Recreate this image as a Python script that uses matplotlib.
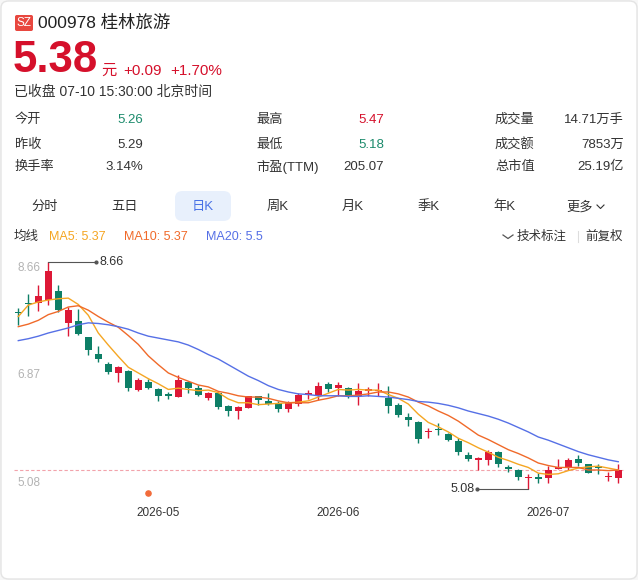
import matplotlib
matplotlib.use('Agg')
import matplotlib.pyplot as plt
import matplotlib.transforms as mtransforms
from matplotlib.patches import FancyBboxPatch
from matplotlib.lines import Line2D

plt.rcParams['font.family'] = ['Liberation Sans', 'Noto Sans CJK SC', 'DejaVu Sans']

# --- Data ---
opens = [7.87, 8.00, 8.02, 8.06, 8.20, 7.69, 7.73, 7.47, 7.21, 7.05,
         6.91, 6.94, 6.64, 6.77, 6.66, 6.56, 6.53, 6.77, 6.68, 6.52,
         6.59, 6.39, 6.31, 6.36, 6.54, 6.47, 6.44, 6.34, 6.42, 6.56,
         6.57, 6.73, 6.67, 6.68, 6.54, 6.63, 6.62, 6.51, 6.41, 6.21,
         6.14, 5.98, 6.02, 5.95, 5.84, 5.62, 5.54, 5.54, 5.67, 5.41,
         5.38, 5.25, 5.25, 5.26, 5.40, 5.42, 5.55, 5.47, 5.44, 5.27, 5.26]
closes = [7.85, 7.99, 8.13, 8.51, 7.90, 7.90, 7.52, 7.27, 7.13, 6.92,
          7.01, 6.67, 6.80, 6.68, 6.54, 6.55, 6.80, 6.68, 6.56, 6.59,
          6.37, 6.31, 6.37, 6.54, 6.48, 6.42, 6.34, 6.44, 6.57, 6.59,
          6.70, 6.66, 6.72, 6.55, 6.63, 6.64, 6.64, 6.39, 6.24, 6.17,
          5.87, 6.00, 6.01, 5.85, 5.66, 5.55, 5.56, 5.66, 5.48, 5.40,
          5.27, 5.27, 5.24, 5.38, 5.42, 5.54, 5.49, 5.34, 5.41, 5.29, 5.38]
highs = [7.93, 8.15, 8.29, 8.66, 8.29, 7.95, 7.92, 7.48, 7.34, 7.09,
         7.02, 6.96, 6.83, 6.81, 6.68, 6.61, 6.88, 6.78, 6.72, 6.61,
         6.61, 6.40, 6.39, 6.55, 6.55, 6.60, 6.46, 6.46, 6.59, 6.64,
         6.77, 6.76, 6.77, 6.69, 6.75, 6.69, 6.75, 6.70, 6.44, 6.28,
         6.15, 6.04, 6.12, 5.97, 5.89, 5.66, 5.58, 5.69, 5.68, 5.46,
         5.39, 5.31, 5.33, 5.44, 5.56, 5.57, 5.62, 5.48, 5.47, 5.35, 5.47]
lows = [7.66, 7.81, 7.88, 7.98, 7.87, 7.50, 7.51, 7.20, 7.08, 6.89,
        6.77, 6.63, 6.63, 6.65, 6.47, 6.50, 6.53, 6.59, 6.54, 6.49,
        6.34, 6.23, 6.19, 6.36, 6.40, 6.40, 6.30, 6.30, 6.39, 6.50,
        6.48, 6.61, 6.55, 6.51, 6.41, 6.55, 6.55, 6.28, 6.21, 6.07,
        5.81, 5.88, 5.93, 5.84, 5.62, 5.52, 5.38, 5.46, 5.43, 5.35,
        5.22, 5.08, 5.18, 5.18, 5.39, 5.38, 5.44, 5.33, 5.31, 5.21, 5.18]

ma5 = [7.80, 7.98, 8.03, 8.06, 8.08, 8.09, 7.99, 7.82, 7.54, 7.35,
       7.17, 7.00, 6.91, 6.82, 6.74, 6.65, 6.67, 6.65, 6.63, 6.64,
       6.60, 6.50, 6.44, 6.44, 6.41, 6.42, 6.43, 6.44, 6.45, 6.47,
       6.53, 6.59, 6.65, 6.64, 6.65, 6.64, 6.64, 6.57, 6.51, 6.42,
       6.26, 6.13, 6.06, 5.98, 5.88, 5.81, 5.73, 5.66, 5.58, 5.53,
       5.47, 5.42, 5.33, 5.31, 5.32, 5.37, 5.41, 5.43, 5.44, 5.41, 5.38]
ma10 = [7.64, 7.68, 7.74, 7.83, 7.88, 7.95, 7.97, 7.90, 7.80, 7.71,
        7.63, 7.50, 7.36, 7.18, 7.04, 6.91, 6.84, 6.78, 6.72, 6.69,
        6.62, 6.59, 6.55, 6.53, 6.53, 6.51, 6.47, 6.44, 6.44, 6.44,
        6.48, 6.51, 6.55, 6.55, 6.56, 6.58, 6.61, 6.61, 6.58, 6.53,
        6.45, 6.39, 6.31, 6.24, 6.15, 6.04, 5.93, 5.86, 5.78, 5.70,
        5.64, 5.57, 5.49, 5.45, 5.42, 5.42, 5.42, 5.38, 5.38, 5.37, 5.38]
ma20 = [7.42, 7.45, 7.49, 7.54, 7.58, 7.62, 7.67, 7.70, 7.69, 7.67,
        7.64, 7.60, 7.54, 7.49, 7.46, 7.43, 7.40, 7.35, 7.28, 7.20,
        7.13, 7.04, 6.95, 6.86, 6.79, 6.71, 6.65, 6.61, 6.58, 6.57,
        6.55, 6.55, 6.55, 6.54, 6.54, 6.55, 6.54, 6.53, 6.51, 6.49,
        6.46, 6.45, 6.43, 6.40, 6.36, 6.31, 6.27, 6.23, 6.18, 6.12,
        6.05, 5.98, 5.90, 5.85, 5.79, 5.73, 5.67, 5.62, 5.58, 5.54, 5.51]

month_pos = [14, 32, 53]
month_labels = ['2026-05', '2026-06', '2026-07']
y_labels = [8.66, 6.87, 5.08]
last_price = 5.38
event_idx = 13

stats = [
    [('今开', '5.26', 'green'), ('最高', '5.47', 'red'), ('成交量', '14.71万手', None)],
    [('昨收', '5.29', None), ('最低', '5.18', 'green'), ('成交额', '7853万', None)],
    [('换手率', '3.14%', None), ('市盈(TTM)', '205.07', None), ('总市值', '25.19亿', None)],
]
tabs = ['分时', '五日', '日K', '周K', '月K', '季K', '年K', '更多']

RED = '#dd1836'
GREEN = '#0d7f66'
TXT = '#333333'
C_MA5 = '#f5a623'
C_MA10 = '#f06a2a'
C_MA20 = '#5670e6'

W, H = 638, 580
fig = plt.figure(figsize=(W / 100, H / 100), dpi=100)
fig.patch.set_facecolor('#f7f7f7')


def px(x, y):
    return x / W, 1 - y / H


def label(x, y, s, **kw):
    kw.setdefault('va', 'center')
    kw.setdefault('color', TXT)
    fig.text(*px(x, y), s, **kw)


def fig_box(x0, y0, x1, y1, **kw):
    # rounded box in pixel coords (top-left / bottom-right), kept behind the axes
    p = FancyBboxPatch(px(x0, y1), (x1 - x0) / W, (y1 - y0) / H,
                       transform=fig.transFigure, zorder=-10, **kw)
    fig.patches.append(p)


# card background
fig_box(1, 1, 637, 579, boxstyle='round,pad=0,rounding_size=0.012', fc='white', ec='#e4e4e4', lw=1)

# --- Header ---
fig_box(15, 15, 33, 31, boxstyle='round,pad=0,rounding_size=0.003', fc='#e8473f', ec='none')
label(24, 23.5, 'SZ', color='white', fontsize=8.5, ha='center')
label(38, 23, '000978 桂林旅游', fontsize=12.5, color='#222222')
label(13, 60, '5.38', fontsize=31.5, fontweight='bold', color='#d5102b')
label(101, 71, '元', fontsize=11, color='#d5102b')
label(123, 71, '+0.09', fontsize=11, color='#d5102b')
label(170, 71, '+1.70%', fontsize=11, color='#d5102b')
label(14, 92, '已收盘 07-10 15:30:00 北京时间', fontsize=10)

# --- Stats table ---
row_y = [120, 145, 166.5]
col_label_x = [15, 256, 495]
col_value_x = [143, 384, 624]
for r, row in enumerate(stats):
    for c, (name, val, tone) in enumerate(row):
        label(col_label_x[c], row_y[r], name, fontsize=9.5)
        vc = {'green': '#1b8a6b', 'red': '#d5102b'}.get(tone, TXT)
        label(col_value_x[c], row_y[r], val, fontsize=9.5, color=vc, ha='right')

# --- Tabs ---
tab_x = [45, 124.5, 203, 277.5, 353, 429, 504, 580]
fig_box(175, 191, 231, 221, boxstyle='round,pad=0,rounding_size=0.012', fc='#e8f0fc', ec='none')
for t, x in zip(tabs, tab_x):
    col = '#4a72e6' if t == '日K' else TXT
    label(x, 207, t, fontsize=9.5, color=col, ha='center')
fig.add_artist(Line2D([597 / W, 600.5 / W, 604 / W], [1 - 205 / H, 1 - 208.5 / H, 1 - 205 / H],
                      color=TXT, lw=0.8, transform=fig.transFigure))

# --- MA legend ---
label(14, 236.5, '均线', fontsize=9)
label(49, 236.5, 'MA5: 5.37', fontsize=9, color=C_MA5)
label(124, 236.5, 'MA10: 5.37', fontsize=9, color=C_MA10)
label(206, 236.5, 'MA20: 5.5', fontsize=9, color=C_MA20)
fig.add_artist(Line2D([503 / W, 508 / W, 513 / W], [1 - 235 / H, 1 - 238.5 / H, 1 - 235 / H],
                      color='#555555', lw=0.9, transform=fig.transFigure))
label(517, 236.5, '技术标注', fontsize=9)
fig.add_artist(Line2D([577.5 / W, 577.5 / W], [1 - 231 / H, 1 - 242 / H],
                      color='#dddddd', lw=0.8, transform=fig.transFigure))
label(585, 236.5, '前复权', fontsize=9)

# --- Candlestick chart ---
ax = fig.add_axes([14 / W, (H - 497) / H, 610 / W, 242 / H])
ax.patch.set_alpha(0)
ax.set_xlim(-0.43, 60.57)
ax.set_ylim(4.954, 8.77)
for s in ax.spines.values():
    s.set_visible(False)
ax.set_yticks([])

idx = list(range(len(closes)))
colors = [RED if c >= o else GREEN for o, c in zip(opens, closes)]
ax.vlines(idx, lows, highs, colors=colors, lw=1.0, zorder=2)
bottoms = [min(o, c) for o, c in zip(opens, closes)]
heights = [max(abs(c - o), 0.022) for o, c in zip(opens, closes)]
ax.bar(idx, heights, bottom=bottoms, width=0.72, color=colors, lw=0, zorder=3)

ax.plot(idx, ma5, color=C_MA5, lw=1.0, zorder=4)
ax.plot(idx, ma10, color=C_MA10, lw=1.0, zorder=4)
ax.plot(idx, ma20, color=C_MA20, lw=1.0, zorder=4)

ax.axhline(last_price, color='#f2a3ab', lw=0.8, ls=(0, (3, 2)), zorder=1)

# price scale labels
blend = mtransforms.blended_transform_factory(ax.transAxes, ax.transData)
for v, va in zip(y_labels, ['top', 'center', 'bottom']):
    ax.text(0.006, v, f'{v:.2f}', transform=blend, fontsize=8.5, color='#b3b3b3', va=va, ha='left')

# max / min markers
hi = max(highs)
hi_i = highs.index(hi)
ax.plot([hi_i, hi_i + 4.8], [hi, hi], color='#555555', lw=0.8, zorder=5)
ax.plot([hi_i + 4.8], [hi], 'o', color='#555555', ms=2, zorder=5)
ax.text(hi_i + 5.1, hi, f'{hi:.2f}', fontsize=9, color=TXT, va='center', ha='left')

lo = min(lows)
lo_i = lows.index(lo)
ax.plot([lo_i - 5.1, lo_i], [lo, lo], color='#555555', lw=0.8, zorder=5)
ax.plot([lo_i - 5.1], [lo], 'o', color='#555555', ms=2, zorder=5)
ax.text(lo_i - 5.4, lo, f'{lo:.2f}', fontsize=9, color=TXT, va='center', ha='right')

# event marker below the candles
xblend = mtransforms.blended_transform_factory(ax.transData, ax.transAxes)
ax.scatter([event_idx], [0.017], transform=xblend, s=14, color='#f26b3a', zorder=5, clip_on=False)

ax.set_xticks(month_pos)
ax.set_xticklabels(month_labels, fontsize=8.5, color=TXT)
ax.tick_params(axis='x', length=0, pad=7)

fig.savefig('out.png', dpi=100)
